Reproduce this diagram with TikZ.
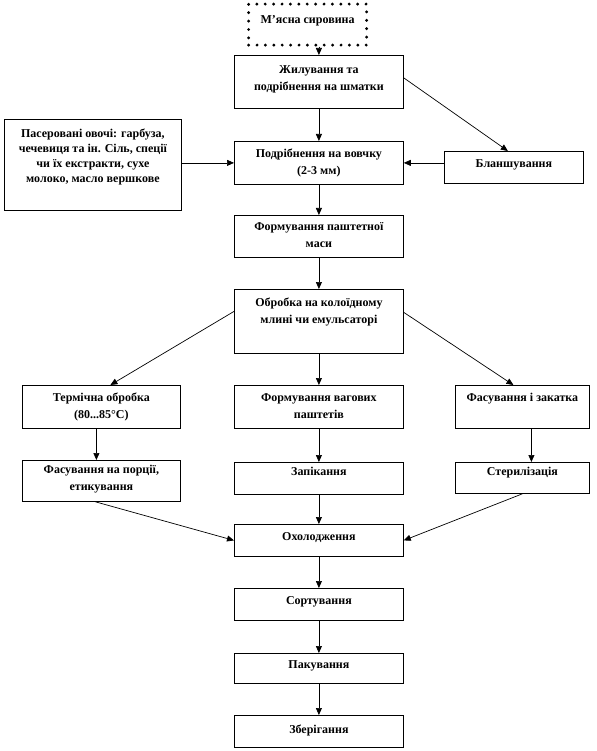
\documentclass[tikz,border=0pt]{standalone}
\usepackage{fontspec}
\setmainfont{Liberation Serif}
\usetikzlibrary{arrows.meta}
\tikzset{
  box/.style={draw, line width=0.8pt, anchor=north west, inner sep=0pt, fill=white},
  rawbox/.style={draw, line width=3.2pt, dash pattern=on 0pt off 8.4pt, line cap=round, anchor=north west, inner sep=0pt},
  txt/.style={anchor=north, inner sep=0pt, align=center, font=\fontsize{12}{17}\selectfont\bfseries},
  smalltxt/.style={anchor=north, inner sep=0pt, align=center, font=\fontsize{12}{15}\selectfont\bfseries},
  arr/.style={line width=0.7pt, -{Triangle[length=7pt,width=6pt]}},
}
\newcommand{\bx}[6]{%
  \node[box, minimum width=#3pt, minimum height=#4pt] (#1) at (#2) {};
  \node[txt] at ([yshift=-#5pt]#1.north) {#6};}
\begin{document}
\begin{tikzpicture}[x=1pt,y=-1pt]
\useasboundingbox (0,0) rectangle (596,751);
% boxes
\node[rawbox, minimum width=118pt, minimum height=41pt] (raw) at (247,2.5) {};
\node[txt] at ([yshift=-13pt]raw.north) {М’ясна сировина};
\bx{zhyl}{234,55}{169}{53}{10}{Жилування та\\подрібнення на шматки}
\node[box, minimum width=177pt, minimum height=91pt] (ingr) at (4,119) {};
\node[smalltxt] at ([yshift=-10pt]ingr.north) {Пасеровані овочі: гарбуза,\\чечевиця та ін. Сіль, спеції\\чи їх екстракти, сухе\\молоко, масло вершкове};
\bx{podr}{234,141}{169}{43}{8}{Подрібнення на вовчку\\(2-3 мм)}
\bx{blan}{444,151}{139}{32}{8}{Бланшування}
\bx{form}{234,215}{169}{42}{7}{Формування паштетної\\маси}
\bx{obr}{234,289}{169}{64}{9}{Обробка на колоїдному\\млині чи емульсаторі}
\bx{term}{22,385}{158}{43}{8}{Термічна обробка\\(80...85°C)}
\bx{vag}{234,385}{169}{43}{8}{Формування вагових\\паштетів}
\bx{zak}{455,385}{134}{43}{8}{Фасування і закатка}
\bx{fpor}{22,460}{158}{41}{5}{Фасування на порції,\\етикування}
\bx{zap}{234,462}{169}{32}{5}{Запікання}
\bx{ster}{455,462}{134}{31}{5}{Стерилізація}
\bx{ohol}{234,524}{169}{32}{8}{Охолодження}
\bx{sort}{234,588}{169}{32}{8}{Сортування}
\bx{pak}{234,653}{169}{30}{7}{Пакування}
\bx{zber}{234,715}{169}{32}{10}{Зберігання}
% connectors
\draw[arr] (raw.south -| zhyl.north) -- (zhyl.north);
\draw[arr] (zhyl.south) -- (podr.north);
\draw[arr] ([yshift=4pt]zhyl.east) -- ([xshift=-6pt]blan.north);
\draw[arr] (blan.west |- podr.east) -- (podr.east);
\draw[arr] (ingr.east |- podr.west) -- (podr.west);
\draw[arr] (podr.south) -- (form.north);
\draw[arr] (form.south) -- (obr.north);
\draw[arr] ([yshift=10pt]obr.west) -- ([xshift=9pt]term.north);
\draw[arr] ([yshift=9pt]obr.east) -- ([xshift=-9pt]zak.north);
\draw[arr] (obr.south) -- (vag.north);
\draw[arr] ([xshift=-5pt]term.south) -- ([xshift=-5pt]fpor.north);
\draw[arr] (vag.south) -- (zap.north);
\draw[arr] ([xshift=9pt]zak.south) -- ([xshift=9pt]ster.north);
\draw[arr] ([xshift=-6pt]fpor.south) -- (ohol.west);
\draw[arr] (zap.south) -- (ohol.north);
\draw[arr] (ster.south) -- (ohol.east);
\draw[arr] (ohol.south) -- (sort.north);
\draw[arr] (sort.south) -- (pak.north);
\draw[arr] (pak.south) -- (zber.north);
\end{tikzpicture}
\end{document}
